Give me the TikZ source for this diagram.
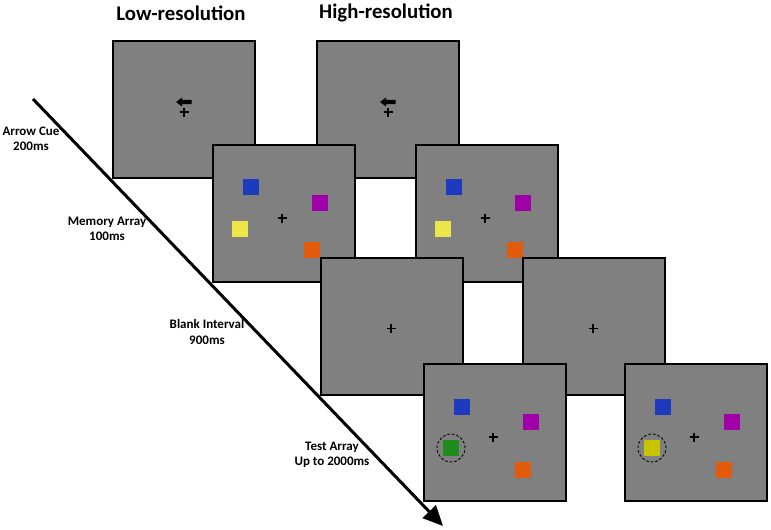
\documentclass[tikz,border=0pt]{standalone}
\usepackage{fontspec}
\setmainfont{Carlito}
\usetikzlibrary{arrows.meta,calc}
\definecolor{panelgray}{RGB}{128,128,128}
\definecolor{sqblue}{RGB}{30,58,190}
\definecolor{sqmag}{RGB}{160,0,168}
\definecolor{sqyel}{RGB}{236,230,72}
\definecolor{sqorange}{RGB}{226,90,12}
\definecolor{sqgreen}{RGB}{32,140,30}
\definecolor{sqdyel}{RGB}{200,196,0}
\begin{document}
\begin{tikzpicture}[x=1pt,y=-1pt,
  panel/.style={draw=black,line width=2.3pt,fill=panelgray,minimum width=142pt,minimum height=137pt,inner sep=0pt,outer sep=0pt,anchor=north west},
  sq/.style={minimum size=16pt,inner sep=0pt,outer sep=0pt},
  probe/.style={draw=black,circle,dash pattern=on 2.6pt off 2pt,line width=0.9pt,minimum size=28pt,inner sep=0pt},
  title/.style={font=\fontsize{20.8}{24}\selectfont\bfseries},
  tlabel/.style={font=\fontsize{13}{15.5}\selectfont\bfseries,align=center},
  fixc/.style={line width=1.7pt},
  cuearrow/.style={fill=black}]
\useasboundingbox (0,0) rectangle (771,530);
% titles
\node[title] (tlow) at (181,13) {Low-resolution};
\node[title] (thigh) at (386,13) {High-resolution};
% timeline
\coordinate (ts) at (33,99);
\coordinate (te) at (443,526);
\draw[line width=3pt,-{Triangle[length=20pt,width=18pt]}] (ts) -- (te);
% labels
\node[tlabel] (l1) at (31,139) {Arrow Cue\\200ms};
\node[tlabel] (l2) at (107,229) {Memory Array\\100ms};
\node[tlabel] (l3) at (207,332) {Blank Interval\\900ms};
\node[tlabel] (l4) at (332,455) {Test Array\\Up to 2000ms};
% arrow cue row
\foreach \n/\x/\y in {A1/113/41, A2/317/41}{
  \node[panel] (\n) at (\x,\y) {};
  \draw[fixc] ($(\n.north west)+(66.5,71)$) -- ++(9,0) ($(\n.north west)+(71,66.5)$) -- ++(0,9);
  \fill[cuearrow] ($(\n.north west)+(63,61)$) -- ++(6,-4.5) -- ++(0,2.3) -- ++(9.5,0) -- ++(0,4.4) -- ++(-9.5,0) -- ++(0,2.3) -- cycle;
}
% memory row
\foreach \n/\x/\y in {B1/213/145, B2/416/145}{
  \node[panel] (\n) at (\x,\y) {};
  \draw[fixc] ($(\n.north west)+(64.5,73)$) -- ++(9,0) ($(\n.north west)+(69,68.5)$) -- ++(0,9);
  \node[sq,fill=sqblue] (\n b) at ($(\n.north west)+(38,42)$) {};
  \node[sq,fill=sqmag] (\n m) at ($(\n.north west)+(107,58)$) {};
  \node[sq,fill=sqyel] (\n y) at ($(\n.north west)+(27,84)$) {};
  \node[sq,fill=sqorange] (\n o) at ($(\n.north west)+(99,105)$) {};
}
% blank row
\foreach \n/\x/\y in {C1/321/258, C2/523/258}{
  \node[panel] (\n) at (\x,\y) {};
  \draw[fixc] ($(\n.north west)+(65.5,70.5)$) -- ++(9,0) ($(\n.north west)+(70,66)$) -- ++(0,9);
}
% test row
\foreach \n/\x/\y/\c in {D1/424/364/sqgreen, D2/625/364/sqdyel}{
  \node[panel] (\n) at (\x,\y) {};
  \draw[fixc] ($(\n.north west)+(64.5,73)$) -- ++(9,0) ($(\n.north west)+(69,68.5)$) -- ++(0,9);
  \node[sq,fill=sqblue] (\n b) at ($(\n.north west)+(38,43)$) {};
  \node[sq,fill=sqmag] (\n m) at ($(\n.north west)+(107,58)$) {};
  \node[sq,fill=\c] (\n t) at ($(\n.north west)+(27,84)$) {};
  \node[sq,fill=sqorange] (\n o) at ($(\n.north west)+(99,106)$) {};
  \node[probe] (\n p) at (\n t) {};
}
\end{tikzpicture}
\end{document}
